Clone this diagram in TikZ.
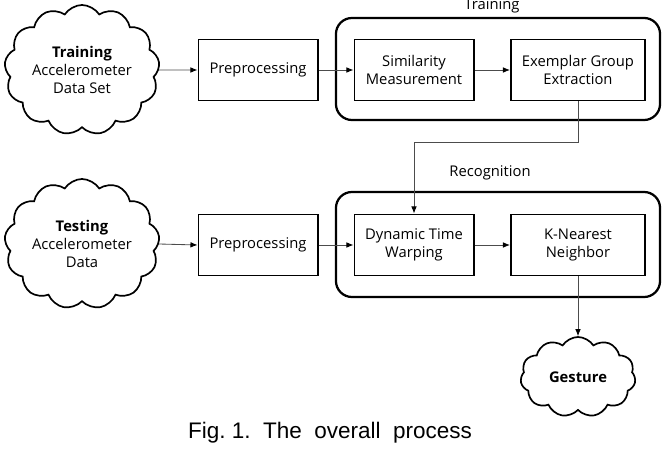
\documentclass[tikz,border=0pt]{standalone}
\usepackage{fontspec}
\setsansfont{Open Sans}
\newfontfamily\capfont{Liberation Sans}
\usetikzlibrary{shapes.symbols, arrows.meta}
\begin{document}
\begin{tikzpicture}[x=0.025cm, y=-0.025cm, font=\sffamily\fontsize{10.5}{12.5}\selectfont,
	box/.style={draw, line width=1.4pt, minimum width=2.975cm, minimum height=1.525cm, align=center, inner sep=2pt},
	group/.style={draw, line width=1.6pt, rounded corners=0.4cm, minimum width=8.1cm},
	datacloud/.style={draw, cloud, cloud puffs=13, cloud puff arc=115, cloud ignores aspect, line width=1.2pt, align=center, inner xsep=-10pt, inner ysep=-9pt},
	arr/.style={draw=black!70, line width=0.6pt, -{Latex[length=5pt, width=4pt, black]}}]
	
	\useasboundingbox (0,0) rectangle (663,452);
	
	% Training
	\node[group, minimum height=2.55cm] (trainbox) at (498,69) {};
	\node (trainlabel) at (492,6) {Training};
	\node[datacloud, minimum width=3.875cm, minimum height=3.25cm] (traindata) at (82,70) {\textbf{Training}\\Accelerometer\\Data Set};
	\node[box] (prep1) at (258,70) {Preprocessing};
	\node[box] (sim) at (414,70) {Similarity\\Measurement};
	\node[box, minimum width=3.35cm] (ext) at (578,70) {Exemplar Group\\Extraction};
	
	\draw[arr] (traindata.east) -- (prep1.west);
	\draw[arr] (prep1.east) -- (sim.west);
	\draw[arr] (sim.east) -- (ext.west);
	
	% Recognition
	\node[group, minimum height=2.625cm] (recogbox) at (498,244.5) {};
	\node (recoglabel) at (490,173) {Recognition};
	\node[datacloud, minimum width=3.875cm, minimum height=3.25cm] (testdata) at (82,244) {\textbf{Testing}\\Accelerometer\\Data};
	\node[box] (prep2) at (258,245) {Preprocessing};
	\node[box] (dtw) at (414,245) {Dynamic Time\\Warping};
	\node[box, minimum width=3.35cm] (knn) at (578,245) {K-Nearest\\Neighbor};
	
	\coordinate (bend) at (578,142);
	\draw[arr] (ext.south) -- (bend) -| (dtw.north);
	\draw[arr] (testdata.east) -- (prep2.west);
	\draw[arr] (prep2.east) -- (dtw.west);
	\draw[arr] (dtw.east) -- (knn.west);
	
	% Gesture
	\node[datacloud, cloud puffs=11, inner sep=2pt, minimum width=2.875cm, minimum height=2.0cm] (gesture) at (578,377) {\textbf{Gesture}};
	\draw[arr] (knn.south) -- (gesture.north);
	
	% Caption
	\node[font=\capfont\fontsize{16}{18}\selectfont] (caption) at (330,433) {Fig.~1.~~The~~overall~~process};
	
\end{tikzpicture}
\end{document}
